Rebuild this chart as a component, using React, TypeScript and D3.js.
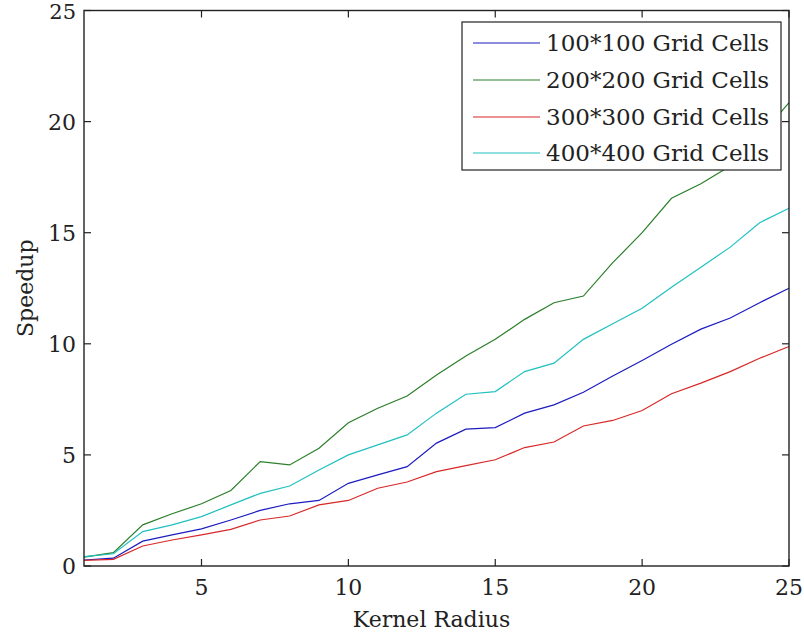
import React from "react";
import * as d3 from "d3";

const radius = [1,2,3,4,5,6,7,8,9,10,11,12,13,14,15,16,17,18,19,20,21,22,23,24,25];
const grid100 = [0.27,0.35,1.12,1.4,1.67,2.07,2.5,2.8,2.95,3.72,4.1,4.47,5.53,6.16,6.23,6.88,7.25,7.82,8.55,9.25,9.98,10.66,11.16,11.85,12.5];
const grid200 = [0.4,0.6,1.85,2.35,2.8,3.4,4.7,4.55,5.3,6.45,7.1,7.65,8.6,9.45,10.2,11.1,11.85,12.15,13.65,15.0,16.55,17.2,18.0,19.3,20.85];
const grid300 = [0.25,0.3,0.9,1.17,1.4,1.65,2.07,2.25,2.75,2.95,3.5,3.78,4.25,4.52,4.78,5.33,5.58,6.3,6.55,7.0,7.75,8.23,8.75,9.35,9.88];
const grid400 = [0.42,0.55,1.55,1.85,2.22,2.75,3.27,3.6,4.32,5.0,5.45,5.9,6.88,7.73,7.85,8.75,9.13,10.2,10.9,11.6,12.55,13.45,14.35,15.45,16.1];
const seriesNames = ["100*100 Grid Cells","200*200 Grid Cells","300*300 Grid Cells","400*400 Grid Cells"];
const seriesColors = ["#1c1cc0","#2a7f2a","#d82828","#20c0c0"];
const xTicks = [5,10,15,20,25];
const yTicks = [0,5,10,15,20,25];

export default function App() {
  const W = 804, H = 637;
  const left = 84, right = 789, top = 10.5, bottom = 566;
  const x = d3.scaleLinear().domain([1,25]).range([left,right]);
  const y = d3.scaleLinear().domain([0,25]).range([bottom,top]);
  const all = [grid100, grid200, grid300, grid400];
  const line = d3.line<number>().x((_, i) => x(radius[i])).y(d => y(d));
  const font = "'DejaVu Serif', serif";
  const tick = 7;
  const legX = 462, legY = 22, legW = 319, legH = 148;
  const rowY = [43, 80, 117, 153];
  return (
    <div style={{position:"absolute", left:0, top:0, width:W, height:H, background:"#fff"}}>
      <svg width={W} height={H} style={{display:"block"}}>
        <rect x={0} y={0} width={W} height={H} fill="#fff" />
        {all.map((s, k) => (
          <path key={k} d={line(s) || ""} fill="none" stroke={seriesColors[k]} strokeWidth={1.2} />
        ))}
        <rect x={left} y={top} width={right-left} height={bottom-top} fill="none" stroke="#222" strokeWidth={1.4} />
        {xTicks.map(t => (
          <g key={"x"+t}>
            <line x1={x(t)} x2={x(t)} y1={bottom} y2={bottom-tick} stroke="#222" strokeWidth={1.2} />
            <line x1={x(t)} x2={x(t)} y1={top} y2={top+tick} stroke="#222" strokeWidth={1.2} />
            <text x={x(t)} y={595} textAnchor="middle" fontFamily={font} fontSize={22} fill="#222">{t}</text>
          </g>
        ))}
        {yTicks.map(t => (
          <g key={"y"+t}>
            <line x1={left} x2={left+tick} y1={y(t)} y2={y(t)} stroke="#222" strokeWidth={1.2} />
            <line x1={right} x2={right-tick} y1={y(t)} y2={y(t)} stroke="#222" strokeWidth={1.2} />
            <text x={76} y={y(t) + 8} textAnchor="end" fontFamily={font} fontSize={t === 25 ? 21 : 22} fill="#222">{t}</text>
          </g>
        ))}
        <text x={(left+right)/2 - 5} y={627} textAnchor="middle" fontFamily={font} fontSize={22} fill="#222">Kernel Radius</text>
        <text transform={`translate(33,${(top+bottom)/2}) rotate(-90)`} textAnchor="middle" fontFamily={font} fontSize={22} fill="#222">Speedup</text>
        <rect x={legX} y={legY} width={legW} height={legH} fill="#fff" stroke="#222" strokeWidth={1.2} />
        {seriesNames.map((n, k) => (
          <g key={n}>
            <line x1={473} x2={540} y1={rowY[k]} y2={rowY[k]} stroke={seriesColors[k]} strokeWidth={1.2} />
            <text x={546} y={rowY[k] + 8} fontFamily={font} fontSize={23} fill="#222">{n}</text>
          </g>
        ))}
      </svg>
    </div>
  );
}
